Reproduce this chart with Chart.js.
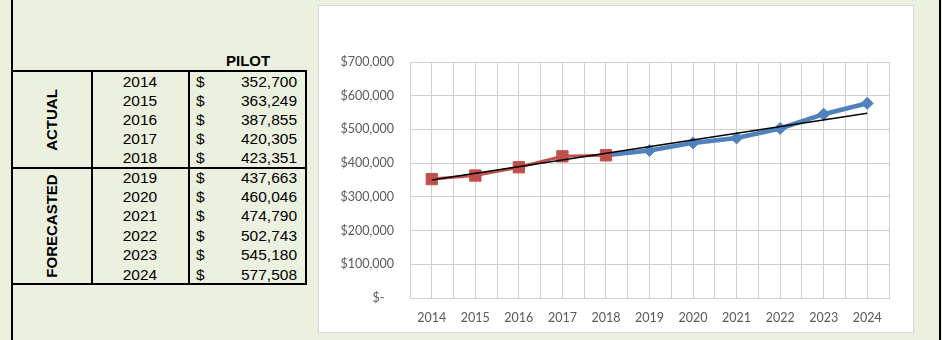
<!DOCTYPE html>
<html>
<head>
<meta charset="utf-8">
<script src="https://cdn.jsdelivr.net/npm/chart.js@4.4.1/dist/chart.umd.min.js"></script>
<style>
  html, body { margin: 0; padding: 0; }
  body { width: 942px; height: 340px; background: #EBF1DE; position: relative; overflow: hidden;
         font-family: "Liberation Sans", Arial, sans-serif; color: #000; }
  .vline { position: absolute; top: 0; width: 2px; height: 340px; background: #000; }
  .box { position: absolute; border: 2px solid #000; box-sizing: border-box; }
  .cell { position: absolute; font-size: 15.5px; line-height: 18px; white-space: nowrap; }
  .side { position: absolute; font-weight: bold; font-size: 15px; transform: translate(-50%, -50%) rotate(-90deg);
          white-space: nowrap; }
  #chartBox { position: absolute; left: 318px; top: 5px; width: 596px; height: 328px; background: #fff;
              border: 1px solid #D9D9D9; box-sizing: border-box; }
</style>
</head>
<body>
<div class="vline" style="left:11px"></div>
<div class="vline" style="left:939px"></div>
<div id="table"></div>
<div id="chartBox"><canvas id="chart"></canvas></div>

<script>
// values read from the sheet
const years = ['2014', '2015', '2016', '2017', '2018', '2019', '2020', '2021', '2022', '2023', '2024'];
const actualYears = ['2014', '2015', '2016', '2017', '2018'];
const actual = [352700, 363249, 387855, 420305, 423351];
const forecastYears = ['2019', '2020', '2021', '2022', '2023', '2024'];
const forecast = [437663, 460046, 474790, 502743, 545180, 577508];
// trend line ends (2014, 2024)
const trendEnds = [350000, 548000];
const yTicks = [0, 100000, 200000, 300000, 400000, 500000, 600000, 700000];

// --- left table ---
const tbl = document.getElementById('table');
function add(html) { tbl.insertAdjacentHTML('beforeend', html); }

add('<div class="cell" style="left:226px;top:52px;font-weight:bold;font-size:15px">PILOT</div>');
// frame + dividers
add('<div class="box" style="left:11px;top:70px;width:296px;height:99px"></div>');
add('<div class="box" style="left:11px;top:167px;width:296px;height:118px"></div>');
add('<div class="vline" style="left:91px;top:70px;height:215px"></div>');
add('<div class="vline" style="left:188px;top:70px;height:215px"></div>');
add('<div class="side" style="left:51px;top:120px">ACTUAL</div>');
add('<div class="side" style="left:51px;top:226px">FORECASTED</div>');

function fmt(v) { return v.toLocaleString('en-US'); }
function row(year, val, cy) {
  const top = cy - 9;
  add('<div class="cell" style="left:92px;width:96px;text-align:center;top:' + top + 'px">' + year + '</div>');
  add('<div class="cell" style="left:196px;top:' + top + 'px">$</div>');
  add('<div class="cell" style="right:645px;top:' + top + 'px">' + fmt(val) + '</div>');
}
actualYears.forEach((y, i) => row(y, actual[i], 81.5 + i * 19));
forecastYears.forEach((y, i) => row(y, forecast[i], 177.5 + i * 19.4));

// --- chart ---
const actualSeries = years.map(y => { const i = actualYears.indexOf(y); return i >= 0 ? actual[i] : null; });
// forecast line starts from the last actual year
const forecastSeries = years.map(y => {
  const i = forecastYears.indexOf(y);
  if (i >= 0) return forecast[i];
  if (y === actualYears[actualYears.length - 1]) return actual[actual.length - 1];
  return null;
});
const trendSeries = years.map((y, i) => i === 0 ? trendEnds[0] : (i === years.length - 1 ? trendEnds[1] : null));

const tickFont = { family: 'Lato', size: 12.5 };
const gridColor = '#D0D0D0';

new Chart(document.getElementById('chart'), {
  type: 'line',
  data: {
    labels: years,
    datasets: [
      { label: 'Trend', data: trendSeries, borderColor: '#000', borderWidth: 1.5, pointRadius: 0,
        spanGaps: true, order: 0 },
      { label: 'Actual', data: actualSeries, borderColor: '#C0504D', backgroundColor: '#C0504D', borderWidth: 3,
        pointStyle: 'rect', pointRadius: 8, pointBorderWidth: 1, pointHoverRadius: 8, order: 1 },
      { label: 'Forecast', data: forecastSeries, borderColor: '#4F81BD', backgroundColor: '#4F81BD', borderWidth: 4.5,
        pointStyle: 'rectRot', pointRadius: 6, pointBorderWidth: 1, pointHoverRadius: 6, order: 2 }
    ]
  },
  options: {
    responsive: true,
    maintainAspectRatio: false,
    animation: false,
    layout: { padding: { left: 0, right: 24, top: 56, bottom: 0 } },
    plugins: { legend: { display: false }, tooltip: { enabled: false } },
    scales: {
      x: {
        type: 'category', offset: true,
        afterFit: s => { s.height = 34; },
        grid: { color: gridColor, offset: true, drawTicks: false },
        border: { color: gridColor },
        ticks: { color: '#595959', font: tickFont, padding: 12, maxRotation: 0 }
      },
      xMid: {
        type: 'category', offset: true, labels: years, position: 'bottom', display: true,
        afterFit: s => { s.height = 0; },
        grid: { color: gridColor, offset: false, drawTicks: false },
        border: { display: false },
        ticks: { display: false }
      },
      y: {
        min: 0, max: 700000,
        afterBuildTicks: s => { s.ticks = yTicks.map(v => ({ value: v })); },
        afterFit: s => { s.width = 91; },
        grid: { color: gridColor, drawTicks: false },
        border: { color: gridColor },
        ticks: {
          color: '#595959', font: tickFont, padding: 16,
          callback: v => v === 0 ? '$-   ' : '$' + v.toLocaleString('en-US')
        }
      }
    }
  }
});
</script>
</body>
</html>
